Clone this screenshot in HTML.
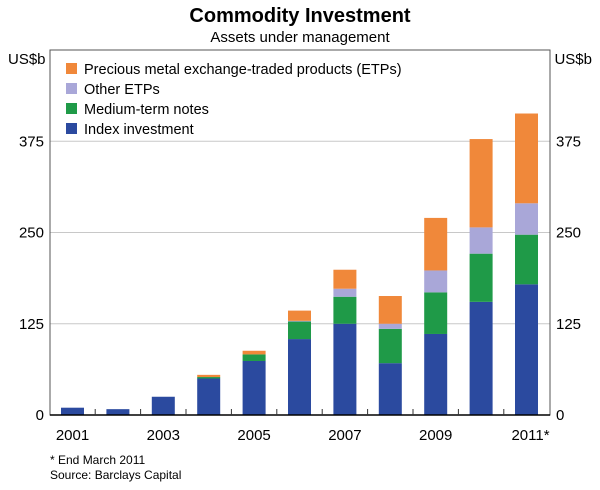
<!DOCTYPE html>
<html><head><meta charset="utf-8"><style>
body{margin:0;background:#fff;font-family:"Liberation Sans",sans-serif}
svg text{font-family:"Liberation Sans",sans-serif;fill:#000}
</style></head><body>
<svg width="600" height="485" viewBox="0 0 600 485">
<text x="300" y="22" text-anchor="middle" font-size="20" font-weight="bold">Commodity Investment</text>
<text x="300" y="42" text-anchor="middle" font-size="15">Assets under management</text>
<g id="grid"></g><g id="bars"></g>
<rect x="50" y="50" width="500" height="365" fill="none" stroke="#555" stroke-width="1"/>
<line x1="50" x2="550" y1="415" y2="415" stroke="#000" stroke-width="1.5"/>
<g id="ticks"></g>
<text x="8" y="64" font-size="15">US$b</text>
<text x="592" y="64" font-size="15" text-anchor="end">US$b</text>
<g>
<rect x="66" y="63" width="11" height="11" fill="#f0883a"/><text x="84" y="74" font-size="14.5">Precious metal exchange-traded products (ETPs)</text>
<rect x="66" y="83" width="11" height="11" fill="#a9a7d8"/><text x="84" y="94" font-size="14.5">Other ETPs</text>
<rect x="66" y="103" width="11" height="11" fill="#1f9a48"/><text x="84" y="114" font-size="14.5">Medium-term notes</text>
<rect x="66" y="123" width="11" height="11" fill="#2b4a9f"/><text x="84" y="134" font-size="14.5">Index investment</text>
</g>
<text x="50" y="464" font-size="12">*     End March 2011</text>
<text x="50" y="479" font-size="12">Source: Barclays Capital</text>
</svg>
<script>
const years=["2001","2002","2003","2004","2005","2006","2007","2008","2009","2010","2011*"];
const indexInv=[10,8,25,50,74,104,125,71,111,155,179];
const mtn=[0,0,0,2,9,24,37,47,57,66,68];
const otherEtp=[0,0,0,0,0,1,11,7,30,36,43];
const precious=[0,0,0,3,5,14,26,38,72,121,123];
const yTicks=[0,125,250,375];
const colors=["#2b4a9f","#1f9a48","#a9a7d8","#f0883a"];
const names=["index","mtn","other-etp","precious"];
const NS="http://www.w3.org/2000/svg";
const y0=415,ppu=365/500;
const yS=v=>y0-v*ppu;
const xS=i=>72.5+i*45.4;
const g=document.getElementById('grid'),b=document.getElementById('bars'),t=document.getElementById('ticks');
function mk(tag,at,p){const e=document.createElementNS(NS,tag);for(const k in at)e.setAttribute(k,at[k]);p.appendChild(e);return e;}
yTicks.forEach(v=>{
 if(v>0){const l=mk('line',{x1:50,x2:550,y1:yS(v),y2:yS(v),stroke:'#c8c8c8','stroke-width':1},g);
 
 }
 [[44,'end'],[556,'start']].forEach(([x,a])=>{const tx=mk('text',{x:x,y:yS(v)+5,'text-anchor':a,'font-size':15},t);tx.textContent=v;
 
 });
});
const series=[indexInv,mtn,otherEtp,precious];
years.forEach((yr,i)=>{
 let base=0;
 series.forEach((s,k)=>{const v=s[i];if(v>0){const r=mk('rect',{x:xS(i)-11.5,y:yS(base+v),width:23,height:v*ppu,fill:colors[k]},b);
  
  }base+=v;});
 if(i<years.length-1){const tk=mk('line',{x1:xS(i)+22.7,x2:xS(i)+22.7,y1:y0,y2:y0-6,stroke:'#333'},t);
 
 }
 if(i%2==0){const tx=mk('text',{x:xS(i)+(i==10?4:0),y:440,'text-anchor':'middle','font-size':15},t);tx.textContent=yr;
 
 }
});
</script>
</body></html>
